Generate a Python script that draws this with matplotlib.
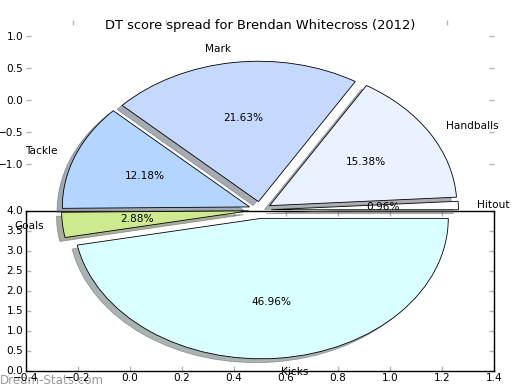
import matplotlib
matplotlib.use("Agg")
import matplotlib.pyplot as plt

# Data
labels = ["Hitout", "Handballs", "Mark", "Tackle", "Goals", "Kicks"]
values = [6, 96, 135, 76, 18, 293]
colors = ["#fafcff", "#eaf1ff", "#c5d9ff", "#b3d5ff", "#ceea8f", "#d9ffff"]
explode = [0.06, 0.06, 0.06, 0.06, 0.06, 0.06]
title = "DT score spread for Brendan Whitecross (2012)"
watermark = "Dream-Stats.com"

W, H = 520, 390
fig = plt.figure(figsize=(W / 100, H / 100), dpi=100)
fig.patch.set_facecolor("white")

TICKC = "#b5b5b5"
FS = 7.6

# top axes (ticks only, no frame)
ax_top = fig.add_axes([26 / W, (H - 179.5) / H, 468 / W, 160 / H])
ax_top.set_xlim(-1.25, 1.25)
ax_top.set_ylim(-1.25, 1.25)
ax_top.set_yticks([-1.0, -0.5, 0.0, 0.5, 1.0])
ax_top.set_xticks([-1.0, -0.5, 0.0, 0.5, 1.0])
for s in ax_top.spines.values():
    s.set_visible(False)
ax_top.patch.set_alpha(0)
ax_top.tick_params(direction="in", length=3.5, width=1, color=TICKC,
                   top=True, right=True, labelbottom=False, labelsize=FS,
                   pad=2)

# bottom axes (frame, ticks)
ax_bot = fig.add_axes([26 / W, 19.5 / H, 468 / W, 160 / H])
ax_bot.set_xlim(-0.4, 1.4)
ax_bot.set_ylim(0, 4)
ax_bot.set_xticks([-0.4, -0.2, 0.0, 0.2, 0.4, 0.6, 0.8, 1.0, 1.2, 1.4])
ax_bot.set_yticks([0.0, 0.5, 1.0, 1.5, 2.0, 2.5, 3.0, 3.5, 4.0])
ax_bot.tick_params(direction="in", length=3.5, width=1, color=TICKC,
                   top=True, right=True, labelsize=FS, pad=2)
for s in ax_bot.spines.values():
    s.set_linewidth(1.0)
    s.set_color("black")
ax_bot.patch.set_alpha(0)

# pie axes on top
ax_pie = fig.add_axes([26 / W, 19.5 / H, 468 / W, 351 / H])
ax_pie.set_axis_off()
ax_pie.pie(values, labels=labels, colors=colors, explode=explode,
           autopct="%.2f%%",
           shadow={"ox": -0.02, "oy": -0.02, "shade": 0.6},
           startangle=0, labeldistance=1.1, pctdistance=0.6,
           wedgeprops={"edgecolor": "black", "linewidth": 0.6},
           textprops={"fontsize": FS})
ax_pie.set_aspect("auto")
ax_pie.set_xlim(-1.25, 1.25)
ax_pie.set_ylim(-(370.5 - 210) / 140.4, (210 - 19.5) / 140.4)

fig.text(260 / W, 1 - 26 / H, title, ha="center", va="center", fontsize=9.4)
fig.text(0 / W, 1 - 380 / H, watermark, ha="left", va="center",
         fontsize=8.6, color="#9a9a9a", zorder=-1)

fig.savefig("out.png", dpi=100)
